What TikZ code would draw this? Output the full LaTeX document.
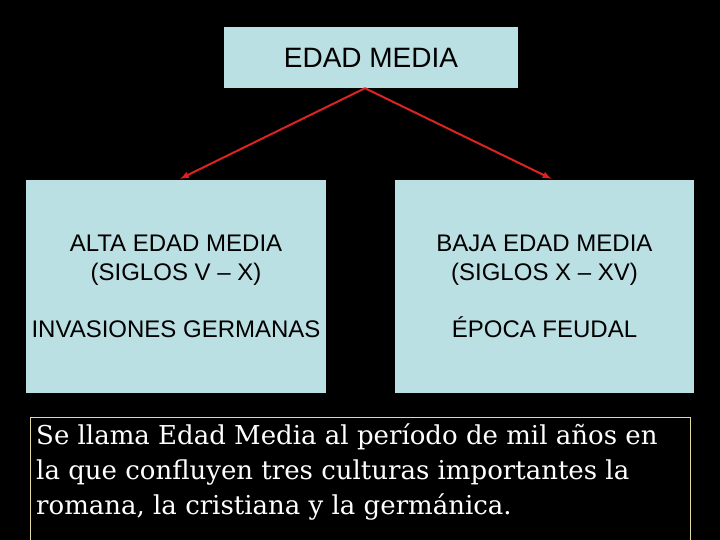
\documentclass[tikz,border=0pt]{standalone}
\usepackage{fontspec}
\setmainfont{Liberation Sans}
\newfontfamily\notefont{DejaVu Serif}
\usetikzlibrary{positioning}

\definecolor{boxblue}{HTML}{BBE0E3}
\definecolor{arrowred}{HTML}{DD2222}
\definecolor{noteline}{HTML}{E2D9A2}

\tikzset{
    period/.style={fill=boxblue, draw=none, align=center, inner sep=0pt},
    link/.style={-latex, arrowred, line width=2pt}
}

\begin{document}
\begin{tikzpicture}[x=1pt, y=-1pt]
        \fill[black] (0, 0) rectangle (720, 540);
        \useasboundingbox (0, 0) rectangle (720, 540);
        \node[period, minimum width=294pt, minimum height=61pt, font=\fontsize{28}{33}\selectfont] (edad) at (371, 57.5) {EDAD MEDIA};
        \node[period, minimum width=300pt, minimum height=213pt, font=\fontsize{24}{28.5}\selectfont] (alta) at (176, 286.5)
            {ALTA EDAD MEDIA\\(SIGLOS V – X)\\[28.5pt]INVASIONES GERMANAS};
        \node[period, minimum width=299pt, minimum height=213pt, font=\fontsize{24}{28.5}\selectfont] (baja) at (544.5, 286.5)
            {BAJA EDAD MEDIA\\(SIGLOS X – XV)\\[28.5pt]ÉPOCA FEUDAL};
        \draw[link] ([xshift=-6pt]edad.south) -- ([xshift=4pt, yshift=1pt]alta.north);
        \draw[link] ([xshift=-6pt]edad.south) -- ([xshift=7pt, yshift=1pt]baja.north);
        % text below
        \draw[noteline, line width=0.8pt] (30.5, 417.5) rectangle (690, 548);
        \node[anchor=north west, align=left, text=white, inner sep=0pt, font=\notefont\fontsize{26}{35}\selectfont] (nota) at (36, 424)
            {Se llama Edad Media al período de mil años en\\la que confluyen tres culturas importantes la\\romana, la cristiana y la germánica.};
    \end{tikzpicture}
\end{document}
